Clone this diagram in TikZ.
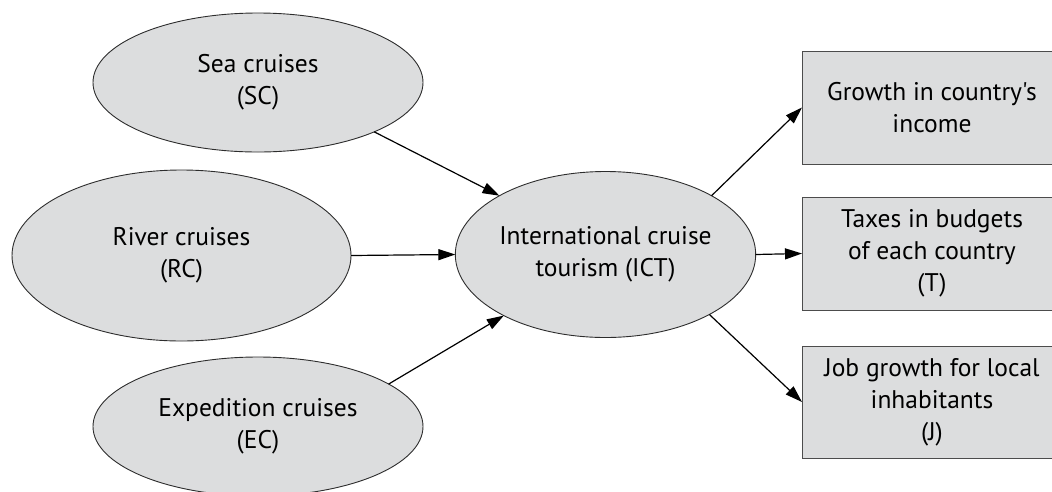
\documentclass[tikz,border=0pt]{standalone}
\usepackage{fontspec}
\setmainfont{PT Sans}[Ligatures=TeXOff]
\usetikzlibrary{shapes.geometric,arrows.meta}
\definecolor{shapefill}{RGB}{220,221,222}
\definecolor{edgegray}{RGB}{45,45,45}
\begin{document}
\begin{tikzpicture}[x=1pt,y=-1pt,
  txt/.style={align=center,font=\fontsize{25.5}{32}\selectfont,text=black},
  oval/.style={ellipse,txt,draw=edgegray,line width=0.9pt,fill=shapefill,inner sep=0pt,outer sep=0pt},
  outbox/.style={rectangle,txt,draw=black!70,line width=1pt,fill=shapefill,inner sep=0pt,outer sep=0pt,minimum width=260pt},
  conn/.style={line width=1.2pt,-{Triangle[length=17pt,width=11pt]}}]
\clip (0,0) rectangle (1052,491);
\node[oval,minimum width=330pt,minimum height=139pt] (sc) at (258,82.5) {Sea cruises\\(SC)};
\node[oval,minimum width=339pt,minimum height=171pt] (rc) at (181.5,255.5) {River cruises\\(RC)};
\node[oval,minimum width=330pt,minimum height=139pt] (ec) at (258,426.5) {Expedition cruises\\(EC)};
\node[oval,minimum width=299pt,minimum height=166pt] (ict) at (605.5,254.5) {International cruise\\tourism (ICT)};
\node[outbox,minimum height=113pt] (g) at (932,107.5) {Growth in country's\\income};
\node[outbox,minimum height=113pt] (t) at (932,253.5) {Taxes in budgets\\of each country\\(T)};
\node[outbox,minimum height=112pt] (j) at (932,402) {Job growth for local\\inhabitants\\(J)};
\draw[conn] (sc.-23.3) -- (ict.151.4);
\draw[conn] (rc.east) -- (ict.west);
\draw[conn] (ec.18.6) -- (ict.211.3);
\draw[conn] (ict.29) -- (g.west);
\draw[conn] (ict.east) -- (t.west);
\draw[conn] (ict.-30.8) -- (j.west);
\end{tikzpicture}
\end{document}
